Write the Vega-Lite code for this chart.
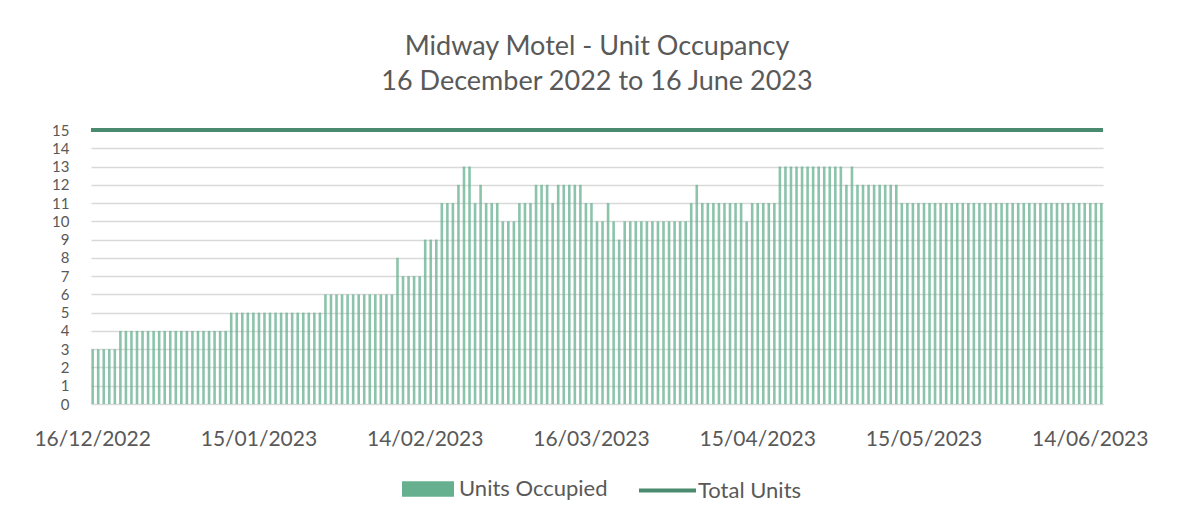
{
  "$schema": "https://vega.github.io/schema/vega-lite/v6.json",
  "width": 1012,
  "height": 274,
  "autosize": {"type": "none"},
  "padding": {"left": 91, "top": 130, "right": 84, "bottom": 120},
  "background": "white",
  "config": {
    "view": {"stroke": null},
    "font": "Lato",
    "axis": {"labelFont": "Lato", "labelColor": "#595959", "labelFontSize": 21},
    "legend": {"labelFont": "Lato", "labelColor": "#595959", "labelFontSize": 22}
  },
  "title": {
    "text": ["Midway Motel - Unit Occupancy", "16 December 2022 to 16 June 2023"],
    "font": "Lato",
    "fontSize": 27,
    "fontWeight": "normal",
    "color": "#595959",
    "lineHeight": 35,
    "anchor": "middle",
    "offset": 27
  },
  "data": {
    "values": [
      {"date": "16/12/2022", "occupied": 3}, {"date": "17/12/2022", "occupied": 3}, {"date": "18/12/2022", "occupied": 3}, {"date": "19/12/2022", "occupied": 3}, {"date": "20/12/2022", "occupied": 3},
      {"date": "21/12/2022", "occupied": 4}, {"date": "22/12/2022", "occupied": 4}, {"date": "23/12/2022", "occupied": 4}, {"date": "24/12/2022", "occupied": 4}, {"date": "25/12/2022", "occupied": 4}, {"date": "26/12/2022", "occupied": 4}, {"date": "27/12/2022", "occupied": 4}, {"date": "28/12/2022", "occupied": 4}, {"date": "29/12/2022", "occupied": 4}, {"date": "30/12/2022", "occupied": 4}, {"date": "31/12/2022", "occupied": 4},
      {"date": "01/01/2023", "occupied": 4}, {"date": "02/01/2023", "occupied": 4}, {"date": "03/01/2023", "occupied": 4}, {"date": "04/01/2023", "occupied": 4}, {"date": "05/01/2023", "occupied": 4}, {"date": "06/01/2023", "occupied": 4}, {"date": "07/01/2023", "occupied": 4}, {"date": "08/01/2023", "occupied": 4}, {"date": "09/01/2023", "occupied": 4},
      {"date": "10/01/2023", "occupied": 5}, {"date": "11/01/2023", "occupied": 5}, {"date": "12/01/2023", "occupied": 5}, {"date": "13/01/2023", "occupied": 5}, {"date": "14/01/2023", "occupied": 5}, {"date": "15/01/2023", "occupied": 5}, {"date": "16/01/2023", "occupied": 5}, {"date": "17/01/2023", "occupied": 5}, {"date": "18/01/2023", "occupied": 5}, {"date": "19/01/2023", "occupied": 5}, {"date": "20/01/2023", "occupied": 5}, {"date": "21/01/2023", "occupied": 5}, {"date": "22/01/2023", "occupied": 5}, {"date": "23/01/2023", "occupied": 5}, {"date": "24/01/2023", "occupied": 5}, {"date": "25/01/2023", "occupied": 5}, {"date": "26/01/2023", "occupied": 5},
      {"date": "27/01/2023", "occupied": 6}, {"date": "28/01/2023", "occupied": 6}, {"date": "29/01/2023", "occupied": 6}, {"date": "30/01/2023", "occupied": 6}, {"date": "31/01/2023", "occupied": 6},
      {"date": "01/02/2023", "occupied": 6}, {"date": "02/02/2023", "occupied": 6}, {"date": "03/02/2023", "occupied": 6}, {"date": "04/02/2023", "occupied": 6}, {"date": "05/02/2023", "occupied": 6}, {"date": "06/02/2023", "occupied": 6}, {"date": "07/02/2023", "occupied": 6}, {"date": "08/02/2023", "occupied": 6},
      {"date": "09/02/2023", "occupied": 8},
      {"date": "10/02/2023", "occupied": 7}, {"date": "11/02/2023", "occupied": 7}, {"date": "12/02/2023", "occupied": 7}, {"date": "13/02/2023", "occupied": 7},
      {"date": "14/02/2023", "occupied": 9}, {"date": "15/02/2023", "occupied": 9}, {"date": "16/02/2023", "occupied": 9},
      {"date": "17/02/2023", "occupied": 11}, {"date": "18/02/2023", "occupied": 11}, {"date": "19/02/2023", "occupied": 11},
      {"date": "20/02/2023", "occupied": 12},
      {"date": "21/02/2023", "occupied": 13}, {"date": "22/02/2023", "occupied": 13},
      {"date": "23/02/2023", "occupied": 11},
      {"date": "24/02/2023", "occupied": 12},
      {"date": "25/02/2023", "occupied": 11}, {"date": "26/02/2023", "occupied": 11}, {"date": "27/02/2023", "occupied": 11},
      {"date": "28/02/2023", "occupied": 10},
      {"date": "01/03/2023", "occupied": 10}, {"date": "02/03/2023", "occupied": 10},
      {"date": "03/03/2023", "occupied": 11}, {"date": "04/03/2023", "occupied": 11}, {"date": "05/03/2023", "occupied": 11},
      {"date": "06/03/2023", "occupied": 12}, {"date": "07/03/2023", "occupied": 12}, {"date": "08/03/2023", "occupied": 12},
      {"date": "09/03/2023", "occupied": 11},
      {"date": "10/03/2023", "occupied": 12}, {"date": "11/03/2023", "occupied": 12}, {"date": "12/03/2023", "occupied": 12}, {"date": "13/03/2023", "occupied": 12}, {"date": "14/03/2023", "occupied": 12},
      {"date": "15/03/2023", "occupied": 11}, {"date": "16/03/2023", "occupied": 11},
      {"date": "17/03/2023", "occupied": 10}, {"date": "18/03/2023", "occupied": 10},
      {"date": "19/03/2023", "occupied": 11},
      {"date": "20/03/2023", "occupied": 10},
      {"date": "21/03/2023", "occupied": 9},
      {"date": "22/03/2023", "occupied": 10}, {"date": "23/03/2023", "occupied": 10}, {"date": "24/03/2023", "occupied": 10}, {"date": "25/03/2023", "occupied": 10}, {"date": "26/03/2023", "occupied": 10}, {"date": "27/03/2023", "occupied": 10}, {"date": "28/03/2023", "occupied": 10}, {"date": "29/03/2023", "occupied": 10}, {"date": "30/03/2023", "occupied": 10}, {"date": "31/03/2023", "occupied": 10},
      {"date": "01/04/2023", "occupied": 10}, {"date": "02/04/2023", "occupied": 10},
      {"date": "03/04/2023", "occupied": 11},
      {"date": "04/04/2023", "occupied": 12},
      {"date": "05/04/2023", "occupied": 11}, {"date": "06/04/2023", "occupied": 11}, {"date": "07/04/2023", "occupied": 11}, {"date": "08/04/2023", "occupied": 11}, {"date": "09/04/2023", "occupied": 11}, {"date": "10/04/2023", "occupied": 11}, {"date": "11/04/2023", "occupied": 11}, {"date": "12/04/2023", "occupied": 11},
      {"date": "13/04/2023", "occupied": 10},
      {"date": "14/04/2023", "occupied": 11}, {"date": "15/04/2023", "occupied": 11}, {"date": "16/04/2023", "occupied": 11}, {"date": "17/04/2023", "occupied": 11}, {"date": "18/04/2023", "occupied": 11},
      {"date": "19/04/2023", "occupied": 13}, {"date": "20/04/2023", "occupied": 13}, {"date": "21/04/2023", "occupied": 13}, {"date": "22/04/2023", "occupied": 13}, {"date": "23/04/2023", "occupied": 13}, {"date": "24/04/2023", "occupied": 13}, {"date": "25/04/2023", "occupied": 13}, {"date": "26/04/2023", "occupied": 13}, {"date": "27/04/2023", "occupied": 13}, {"date": "28/04/2023", "occupied": 13}, {"date": "29/04/2023", "occupied": 13}, {"date": "30/04/2023", "occupied": 13},
      {"date": "01/05/2023", "occupied": 12},
      {"date": "02/05/2023", "occupied": 13},
      {"date": "03/05/2023", "occupied": 12}, {"date": "04/05/2023", "occupied": 12}, {"date": "05/05/2023", "occupied": 12}, {"date": "06/05/2023", "occupied": 12}, {"date": "07/05/2023", "occupied": 12}, {"date": "08/05/2023", "occupied": 12}, {"date": "09/05/2023", "occupied": 12}, {"date": "10/05/2023", "occupied": 12},
      {"date": "11/05/2023", "occupied": 11}, {"date": "12/05/2023", "occupied": 11}, {"date": "13/05/2023", "occupied": 11}, {"date": "14/05/2023", "occupied": 11}, {"date": "15/05/2023", "occupied": 11}, {"date": "16/05/2023", "occupied": 11}, {"date": "17/05/2023", "occupied": 11}, {"date": "18/05/2023", "occupied": 11}, {"date": "19/05/2023", "occupied": 11}, {"date": "20/05/2023", "occupied": 11}, {"date": "21/05/2023", "occupied": 11}, {"date": "22/05/2023", "occupied": 11}, {"date": "23/05/2023", "occupied": 11}, {"date": "24/05/2023", "occupied": 11}, {"date": "25/05/2023", "occupied": 11}, {"date": "26/05/2023", "occupied": 11}, {"date": "27/05/2023", "occupied": 11}, {"date": "28/05/2023", "occupied": 11}, {"date": "29/05/2023", "occupied": 11}, {"date": "30/05/2023", "occupied": 11}, {"date": "31/05/2023", "occupied": 11},
      {"date": "01/06/2023", "occupied": 11}, {"date": "02/06/2023", "occupied": 11}, {"date": "03/06/2023", "occupied": 11}, {"date": "04/06/2023", "occupied": 11}, {"date": "05/06/2023", "occupied": 11}, {"date": "06/06/2023", "occupied": 11}, {"date": "07/06/2023", "occupied": 11}, {"date": "08/06/2023", "occupied": 11}, {"date": "09/06/2023", "occupied": 11}, {"date": "10/06/2023", "occupied": 11}, {"date": "11/06/2023", "occupied": 11}, {"date": "12/06/2023", "occupied": 11}, {"date": "13/06/2023", "occupied": 11}, {"date": "14/06/2023", "occupied": 11}, {"date": "15/06/2023", "occupied": 11}, {"date": "16/06/2023", "occupied": 11}
    ]
  },
  "layer": [
    {
      "mark": {"type": "bar", "width": 2.6, "fillOpacity": 0.75},
      "encoding": {
        "x": {
          "field": "date",
          "type": "ordinal",
          "sort": null,
          "scale": {"paddingInner": 0.5, "paddingOuter": 0.05},
          "axis": {
            "title": null,
            "values": ["16/12/2022", "15/01/2023", "14/02/2023", "16/03/2023", "15/04/2023", "15/05/2023", "14/06/2023"],
            "labelAngle": 0,
            "labelOverlap": false,
            "ticks": false,
            "domain": true,
            "domainColor": "#d9d9d9",
            "labelPadding": 24
          }
        },
        "y": {
          "field": "occupied",
          "type": "quantitative",
          "scale": {"domain": [0, 15], "nice": false},
          "axis": {
            "title": null,
            "values": [0, 1, 2, 3, 4, 5, 6, 7, 8, 9, 10, 11, 12, 13, 14, 15],
            "tickCount": 16,
            "labelOverlap": false,
            "labelFontSize": 15,
            "grid": true,
            "gridColor": "#d9d9d9",
            "gridWidth": 1.5,
            "domain": false,
            "ticks": false,
            "labelPadding": 22,
            "labelBaseline": "middle"
          }
        },
        "fill": {
          "datum": "Units Occupied",
          "scale": {"domain": ["Units Occupied"], "range": ["#66b08f"]},
          "legend": {
            "title": null,
            "orient": "none",
            "legendX": 311,
            "legendY": 333,
            "symbolType": "M-1,-0.3H1V0.3H-1Z",
            "symbolSize": 2704,
            "symbolStrokeWidth": 0,
            "symbolOpacity": 1,
            "labelOffset": 5
          }
        }
      }
    },
    {
      "mark": {"type": "rule", "strokeWidth": 4},
      "encoding": {
        "y": {"datum": 15},
        "stroke": {
          "datum": "Total Units",
          "scale": {"domain": ["Total Units"], "range": ["#4a8a6f"]},
          "legend": {
            "title": null,
            "orient": "none",
            "legendX": 546,
            "legendY": 330,
            "symbolType": "stroke",
            "symbolSize": 3249,
            "symbolStrokeWidth": 4,
            "labelOffset": 0
          }
        }
      }
    }
  ]
}
